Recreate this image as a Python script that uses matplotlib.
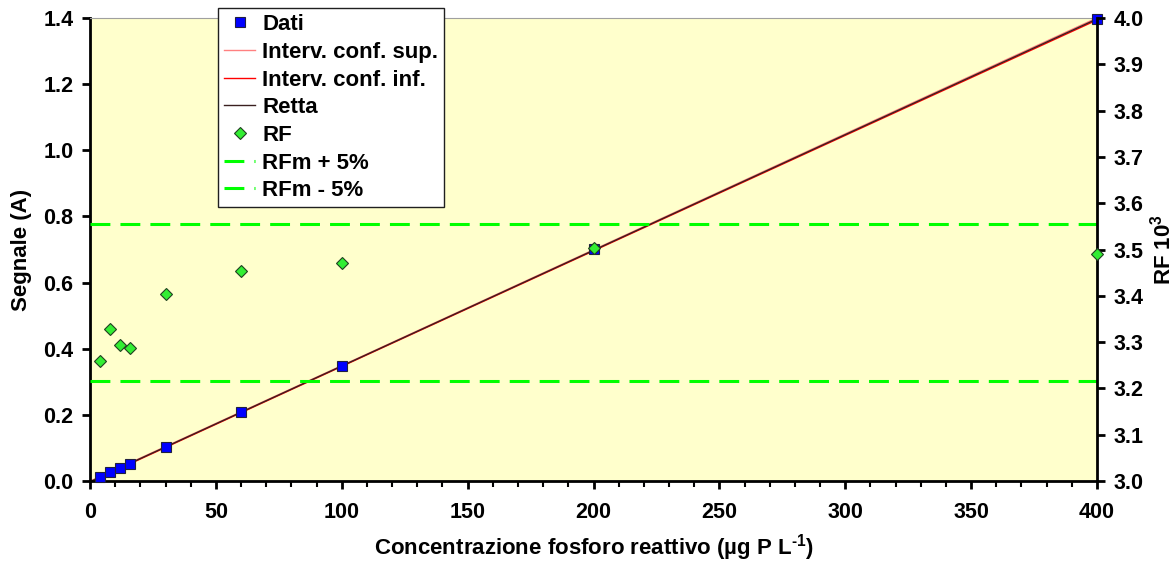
import numpy as np
import matplotlib
matplotlib.use("Agg")
import matplotlib.pyplot as plt
from matplotlib.ticker import MultipleLocator, FormatStrFormatter


# concentrations (ug P / L) and measured signal (A)
conc = [4, 8, 12, 16, 30, 60, 100, 200, 400]
signal = [0.0130, 0.0266, 0.0395, 0.0526, 0.1021, 0.2072, 0.3471, 0.7006, 1.3960]
# response factor x 10^3
rf = [3.259, 3.328, 3.294, 3.287, 3.404, 3.454, 3.471, 3.503, 3.490]
rf_upper = 3.555
rf_lower = 3.217

plt.rcParams["font.family"] = ["Liberation Sans", "DejaVu Sans"]
plt.rcParams["font.weight"] = "bold"
plt.rcParams["mathtext.fontset"] = "custom"
plt.rcParams["mathtext.bf"] = "Liberation Sans:bold"
plt.rcParams["mathtext.rm"] = "Liberation Sans:bold"
plt.rcParams["mathtext.default"] = "bf"

FS = 16
TS = 15.5

fig = plt.figure(figsize=(11.75, 5.66), dpi=100)
ax = fig.add_axes([90 / 1175, 1 - 481 / 566, (1097 - 90) / 1175, (481 - 18) / 566])
ax.set_facecolor("#FFFFCC")

# regression line with confidence band
x = np.array(conc, dtype=float)
y = np.array(signal)
slope, intercept = np.polyfit(x, y, 1)
resid = y - (slope * x + intercept)
s = np.sqrt(np.sum(resid ** 2) / (len(x) - 2))
xl = np.linspace(0, 400, 200)
yl = slope * xl + intercept
half = 2.365 * s * np.sqrt(1 / len(x) + (xl - x.mean()) ** 2 / np.sum((x - x.mean()) ** 2))

l_sup, = ax.plot(xl, yl + half, color="#FF8080", lw=1.0, label="Interv. conf. sup.")
l_inf, = ax.plot(xl, yl - half, color="#FF0000", lw=1.0, label="Interv. conf. inf.")
l_ret, = ax.plot(xl, yl, color="#3A2020", lw=1.0, label="Retta")
p_dat, = ax.plot(conc, signal, ls="none", marker="s", ms=7.5, mfc="#0000FF",
                 mec="#202040", mew=0.8, label="Dati", clip_on=False, zorder=5)

ax.set_xlim(0, 400)
ax.set_ylim(0, 1.4)
ax.xaxis.set_major_locator(MultipleLocator(50))
ax.xaxis.set_minor_locator(MultipleLocator(10))
ax.yaxis.set_major_locator(MultipleLocator(0.2))
ax.yaxis.set_major_formatter(FormatStrFormatter("%.1f"))
ax.tick_params(axis="both", which="major", direction="out", length=6, width=2,
               labelsize=TS, pad=6)
ax.tick_params(axis="x", which="major", pad=9)
ax.tick_params(axis="x", which="minor", direction="out", length=4, width=1.5)
for side in ["left", "bottom"]:
    ax.spines[side].set_linewidth(2)
ax.spines["top"].set_color("#A0A0A0")
ax.spines["top"].set_linewidth(0.8)
ax.spines["right"].set_visible(False)
ax.set_xlabel("Concentrazione fosforo reattivo (µg P L$^{\\text{-1}}$)",
              fontsize=FS, fontweight="bold", labelpad=7)
ax.set_ylabel("Segnale (A)", fontsize=FS, fontweight="bold", labelpad=8)

# right axis: response factor
ax2 = ax.twinx()
ax2.set_ylim(3.0, 4.0)
ax2.yaxis.set_major_locator(MultipleLocator(0.1))
ax2.yaxis.set_major_formatter(FormatStrFormatter("%.1f"))
ax2.tick_params(axis="y", direction="out", length=6, width=2, labelsize=TS, pad=6)
ax2.spines["right"].set_linewidth(2)
ax2.spines["top"].set_visible(False)
ax2.spines["left"].set_visible(False)
ax2.spines["bottom"].set_visible(False)
ax2.set_ylabel("RF 10$^{3}$", fontsize=FS, fontweight="bold", labelpad=4)

p_rf, = ax2.plot(conc, rf, ls="none", marker="D", ms=6, mfc="#33EE33",
                 mec="#204020", mew=0.8, label="RF", clip_on=False, zorder=6)
l_up = ax2.axhline(rf_upper, color="#00FF00", lw=2.2, dashes=(6.5, 3.3), label="RFm + 5%")
l_lo = ax2.axhline(rf_lower, color="#00FF00", lw=2.2, dashes=(6.5, 3.3), label="RFm - 5%")

handles = [p_dat, l_sup, l_inf, l_ret, p_rf, l_up, l_lo]
leg = fig.legend(handles=handles, labels=[h.get_label() for h in handles],
                 loc="upper left", bbox_to_anchor=(218 / 1175, 1 - 8 / 566),
                 frameon=True, fancybox=False, edgecolor="#202020", facecolor="white",
                 framealpha=1, fontsize=FS, handlelength=1.4, handletextpad=0.3,
                 labelspacing=0.3, borderpad=0.28, borderaxespad=0)
leg.get_frame().set_linewidth(1.0)
leg.set_zorder(10)
for t in leg.get_texts():
    t.set_fontweight("bold")

fig.savefig("out.png", dpi=100)
